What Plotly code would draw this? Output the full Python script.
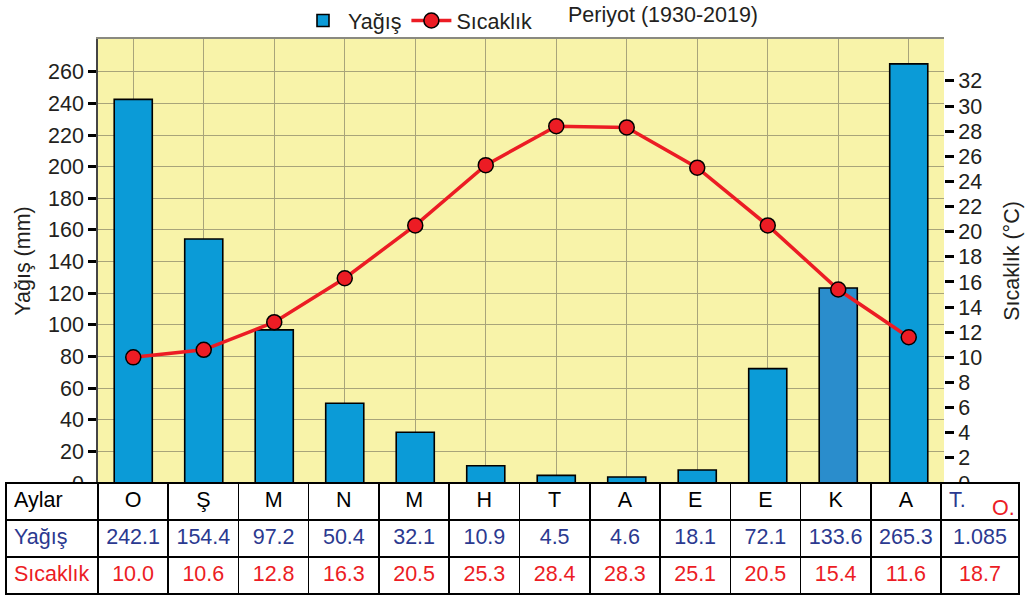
import plotly.graph_objects as go

aylar = ["O", "Ş", "M", "N", "M", "H", "T", "A", "E", "E", "K", "A"]
yagis = [242.1, 154.4, 97.2, 50.4, 32.1, 10.9, 4.5, 4.6, 18.1, 72.1, 133.6, 265.3]
sicaklik = [10.0, 10.6, 12.8, 16.3, 20.5, 25.3, 28.4, 28.3, 25.1, 20.5, 15.4, 11.6]
# bar heights as they are drawn in the picture (some differ from the table)
yagis_bar = [242.5, 154.3, 96.8, 50.4, 32.1, 10.9, 4.8, 3.8, 8.2, 72.3, 123.3, 265.0]
toplam_yagis = "1.085"
ort_sicaklik = "18.7"

W, H = 1027, 600
FONT = "Liberation Sans, Arial, sans-serif"
TXT = "#231f20"
BLUE_TXT = "#2b3990"
RED = "#ec1c24"
BAR = "#0b9bd7"
FS = 21.5

def px_x(p):
    return p / W

def px_y(p):
    return 1 - p / H

x_idx = list(range(len(aylar)))

fig = go.Figure()

fig.add_trace(go.Bar(
    x=x_idx, y=yagis_bar, name="Yağış", width=0.54,
    marker=dict(color=[BAR] * 10 + ["#2a8dcc", BAR], line=dict(color="black", width=1.6)),
    yaxis="y", xaxis="x",
))
fig.add_trace(go.Scatter(
    x=x_idx, y=sicaklik, name="Sıcaklık", mode="lines+markers",
    line=dict(color=RED, width=3.5),
    marker=dict(color=RED, size=15, line=dict(color="black", width=1.5)),
    yaxis="y2", xaxis="x",
))

# table under the chart
header_vals = ["Aylar"] + aylar + ["T."]
col_yagis = [f"{v:.1f}" for v in yagis]
col_sic = [f"{v:.1f}" for v in sicaklik]
cell_vals = [["Yağış", "Sıcaklık"]] + [[a, b] for a, b in zip(col_yagis, col_sic)] + [[toplam_yagis, ort_sicaklik]]

fig.add_trace(go.Table(
    domain=dict(x=[px_x(6), px_x(1020)], y=[0, px_y(483)]),
    columnwidth=[92] + [70.3] * 12 + [78],
    header=dict(values=header_vals, height=37,
                align=["left"] + ["center"] * 12 + ["left"],
                fill=dict(color="white"), line=dict(color="black", width=1.5),
                font=dict(family=FONT, size=FS, color=["black"] * 13 + [BLUE_TXT])),
    cells=dict(values=cell_vals, height=37,
               align=["left"] + ["center"] * 13,
               fill=dict(color="white"), line=dict(color="black", width=1.5),
               font=dict(family=FONT, size=FS, color=[[BLUE_TXT, RED]])),
))

fig.add_annotation(
    text="O.", xref="paper", yref="paper",
    x=px_x(1003), y=px_y(508), xanchor="center", yanchor="middle",
    showarrow=False, font=dict(family=FONT, size=FS, color=RED),
)
fig.add_annotation(
    text="Periyot (1930-2019)", xref="paper", yref="paper",
    x=px_x(566), y=px_y(15), xanchor="left", yanchor="middle",
    showarrow=False, font=dict(family=FONT, size=FS, color=TXT),
)

fig.update_layout(
    width=W, height=H,
    margin=dict(l=0, r=0, t=0, b=0),
    paper_bgcolor="white",
    plot_bgcolor="#f8f3a9",
    font=dict(family=FONT, size=FS, color=TXT),
    showlegend=True,
    legend=dict(orientation="h", x=px_x(298), y=1.0, xanchor="left", yanchor="top",
                font=dict(family=FONT, size=FS, color=TXT),
                bgcolor="rgba(0,0,0,0)", itemwidth=40, traceorder="normal"),
    xaxis=dict(domain=[px_x(98), px_x(944)], range=[-0.5, 11.5],
               tickvals=x_idx, showticklabels=False, ticks="",
               showgrid=True, gridcolor="#a8a47a", gridwidth=1.3,
               showline=True, linecolor="#8a8a80", linewidth=1.5, mirror=True,
               zeroline=False, fixedrange=True),
    yaxis=dict(domain=[px_y(483), px_y(39)], range=[0, 280.7],
               tickvals=list(range(0, 261, 20)), ticks="outside", ticklen=8,
               tickwidth=3, tickcolor="black",
               showgrid=True, gridcolor="#a8a47a", gridwidth=1.3,
               showline=True, linecolor="#444444", linewidth=1.5,
               zeroline=False, automargin=False,
               title=dict(text="Yağış (mm)", font=dict(size=FS), standoff=12),
               tickfont=dict(size=FS, color=TXT)),
    yaxis2=dict(overlaying="y", side="right", range=[0, 35.34],
                tickvals=list(range(0, 33, 2)), ticks="outside", ticklen=9,
                tickwidth=3, tickcolor="black", showgrid=False,
                showline=False, zeroline=False, automargin=False,
                title=dict(text="Sıcaklık (°C)", font=dict(size=FS), standoff=22),
                tickfont=dict(size=FS, color=TXT)),
)

fig.write_html("out.html", config={"displayModeBar": False},
               post_script="document.body.style.margin='0';")
